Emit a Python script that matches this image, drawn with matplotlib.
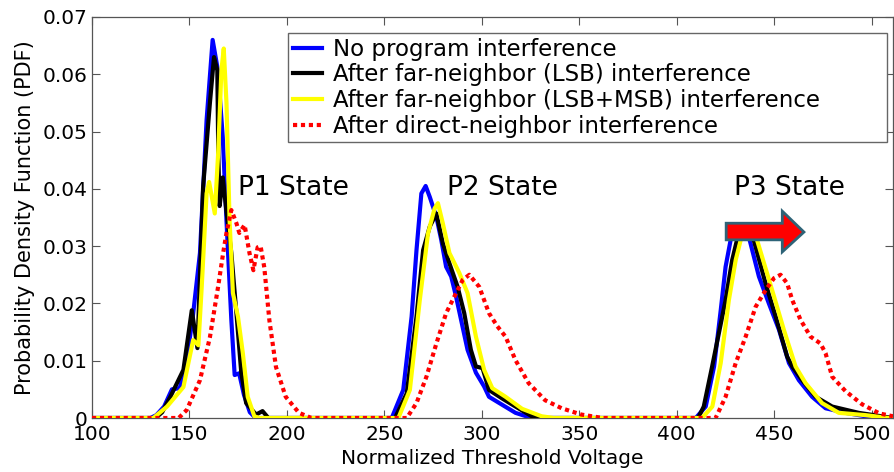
import matplotlib
matplotlib.use("Agg")
import matplotlib.pyplot as plt
from matplotlib.patches import Polygon

# ---- data (normalized Vth vs PDF) ----
x_blue = [100, 130, 133, 137, 141, 145, 148, 151.5, 155.4, 158.8, 161.9, 164.6, 167.1, 169, 171.5, 173.2,
          175.5, 178, 181, 184,
          253.8, 259.7, 264, 266.5, 269, 271.2, 273.3, 276.7, 279.2, 281.7, 284.3, 286.8, 289.4, 292.7, 297,
          301.2, 303.7, 310.5, 317.3, 323.7, 327,
          409.8, 414.9, 419.2, 422.6, 425.1, 427.7, 432.5, 437.5, 442.2, 447.3, 452.5, 457.6, 462.7, 469.5,
          476.4, 486.6, 496.9, 502, 511]
y_blue = [0, 0, 0.0005, 0.002, 0.005, 0.0052, 0.009, 0.017, 0.0288, 0.052, 0.066, 0.0607, 0.049, 0.0345, 0.0171, 0.0075,
          0.0078, 0.004, 0.001, 0,
          0, 0.0049, 0.0177, 0.0293, 0.0392, 0.0405, 0.0386, 0.0351, 0.0311, 0.0264, 0.0247, 0.0212, 0.0171, 0.0119, 0.0079,
          0.0055, 0.0037, 0.0023, 0.0009, 0.0002, 0,
          0, 0.002, 0.009, 0.0188, 0.0264, 0.0311, 0.0335, 0.031, 0.0247, 0.02, 0.0154, 0.0096, 0.0066, 0.0037,
          0.0017, 0.0009, 0.0003, 0, 0]

x_black = [100, 132.6, 136, 140.2, 146.9, 151.2, 154.1, 157, 160.5, 162.6, 164.3, 164.8, 165.5, 167.1, 169, 171.5,
           174.1, 176.6, 179.1, 184.2, 187.5, 190.5,
           255.5, 261.5, 266.5, 269.9, 273.3, 276.7, 280, 283.4, 287.6, 291, 294.4, 297, 300.4, 303.7, 310.5,
           317.3, 325.7, 332,
           411, 413.9, 418.2, 425.1, 428.5, 430.9, 434.5, 439.6, 445.6, 450.8, 456.7, 459.3, 464.4, 471.3, 479.8,
           493.4, 507, 511]
y_black = [0, 0, 0.001, 0.0037, 0.0084, 0.0188, 0.0122, 0.0403, 0.055, 0.063, 0.0607, 0.046, 0.037, 0.042, 0.036, 0.0288,
           0.0183, 0.0079, 0.0026, 0.0006, 0.0012, 0,
           0, 0.0043, 0.0177, 0.0293, 0.0334, 0.0357, 0.0305, 0.027, 0.0229, 0.0183, 0.0119, 0.009, 0.0087, 0.0049, 0.0034,
           0.002, 0.0003, 0,
           0, 0.002, 0.009, 0.0206, 0.0276, 0.031, 0.0335, 0.031, 0.0235, 0.0177, 0.0107, 0.009, 0.0066, 0.0037, 0.002,
           0.0009, 0.0002, 0]

x_yellow = [100, 131.5, 138.5, 146.9, 151.9, 154.6, 156.3, 158.8, 160.1, 163, 164.7, 166.4, 167.6, 169, 170.6, 172.3,
            174.9, 177.4, 179.9, 183.3, 186,
            257.2, 263.1, 268.2, 272.4, 275.8, 277.5, 280, 283.4, 288.5, 292.7, 297, 301.2, 305.4, 312.2, 320.7,
            330.7, 337,
            413, 418.3, 422.6, 426.8, 430.3, 432.8, 436.5, 441.3, 449, 455, 461, 466.1, 474.6, 483.2, 496.9, 508.8, 511]
y_yellow = [0, 0, 0.002, 0.0054, 0.0136, 0.0127, 0.0229, 0.0392, 0.0412, 0.0357, 0.046, 0.0607, 0.0645, 0.055, 0.0345, 0.0218,
            0.0177, 0.0113, 0.0037, 0.0003, 0,
            0, 0.0049, 0.0206, 0.0322, 0.0366, 0.0375, 0.034, 0.0288, 0.0253, 0.0218, 0.0142, 0.0084, 0.0052, 0.0037, 0.0016,
            0.0003, 0,
            0, 0.002, 0.0096, 0.0206, 0.0276, 0.031, 0.0335, 0.031, 0.0223, 0.0154, 0.009, 0.0061, 0.0026, 0.0009, 0.0005, 0, 0]

x_red = [100, 144.5, 148.6, 155.4, 160.5, 164.7, 167.3, 169, 171.5, 174.1, 175.6, 178.3, 180.8, 182.8, 185, 186.5,
         188.4, 191, 194.4, 199.4, 206.2, 212.6,
         261.5, 266.5, 271.6, 276.7, 281.7, 286.8, 290.2, 293.6, 298.7, 303.7, 308, 312.2, 317.3, 324, 332.5,
         341, 351.1, 362,
         420, 425.1, 430.3, 435.4, 440.5, 445.6, 449.9, 453.3, 456.7, 459.3, 463.6, 468.7, 473.8, 476.4, 479.8,
         486.6, 495.1, 504, 511]
y_red = [0, 0, 0.0014, 0.0066, 0.0141, 0.0229, 0.0288, 0.0323, 0.0363, 0.034, 0.0323, 0.0337, 0.0288, 0.0258, 0.0298, 0.030,
         0.0263, 0.0171, 0.0089, 0.0037, 0.0009, 0,
         0, 0.0026, 0.0072, 0.013, 0.0183, 0.0218, 0.0241, 0.025, 0.0229, 0.0183, 0.016, 0.0142, 0.0101, 0.0061, 0.0031,
         0.0017, 0.0006, 0,
         0, 0.0037, 0.0096, 0.0142, 0.0194, 0.0223, 0.0244, 0.025, 0.0235, 0.0206, 0.0171, 0.0142, 0.013, 0.0113, 0.0072,
         0.0047, 0.0024, 0.0008, 0.0003]

series_labels = ["No program interference",
                 "After far-neighbor (LSB) interference",
                 "After far-neighbor (LSB+MSB) interference",
                 "After direct-neighbor interference"]

x_ticks = [100, 150, 200, 250, 300, 350, 400, 450, 500]
y_ticks = [0, 0.01, 0.02, 0.03, 0.04, 0.05, 0.06, 0.07]
y_tick_labels = ["0", "0.01", "0.02", "0.03", "0.04", "0.05", "0.06", "0.07"]

state_names = ["P1 State", "P2 State", "P3 State"]
state_x = [174.8, 281.9, 429.4]

# ---- figure ----
plt.rcParams["font.family"] = ["DejaVu Sans"]
dpi = 100
fig = plt.figure(figsize=(894 / dpi, 472 / dpi), dpi=dpi)
ax = fig.add_axes([92 / 894, 54 / 472, 801 / 894, 401 / 472])

ax.plot(x_blue, y_blue, color="#0000ff", lw=3, label=series_labels[0], zorder=2)
ax.plot(x_black, y_black, color="black", lw=3, label=series_labels[1], zorder=3)
ax.plot(x_yellow, y_yellow, color="#ffff00", lw=3, label=series_labels[2], zorder=4)
ax.plot(x_red, y_red, color="#ff0000", lw=3, dashes=(1, 0.9), label=series_labels[3], zorder=5)

ax.set_xlim(100, 511)
ax.set_ylim(0, 0.07)
ax.set_xticks(x_ticks)
ax.set_yticks(y_ticks)
ax.set_yticklabels(y_tick_labels)
ax.tick_params(direction="in", top=True, right=True, length=6, width=0.8,
               color="#555555", labelsize=14.5, pad=3)
ax.tick_params(axis="x", pad=5)
for s in ax.spines.values():
    s.set_color("#555555")
    s.set_linewidth(0.9)

ax.set_xlabel("Normalized Threshold Voltage", fontsize=14.5, labelpad=4)
ax.set_ylabel("Probability Density Function (PDF)", fontsize=15)
ax.yaxis.set_label_coords(-0.071, 0.5)

for name, sx in zip(state_names, state_x):
    ax.text(sx, 0.0402, name, fontsize=19, ha="left", va="center", zorder=6)

# red shift arrow over P3
arrow = Polygon([(425.4, 0.0340), (454.2, 0.0340), (454.2, 0.0361), (465.3, 0.03246),
                 (454.2, 0.0290), (454.2, 0.0311), (425.4, 0.0311)],
                closed=True, facecolor="#ff0000", edgecolor="#2e6377", lw=2, zorder=7)
ax.add_patch(arrow)

leg = ax.legend(loc="upper left", bbox_to_anchor=(288 / 894, (472 - 139) / 472, 599 / 894, 106 / 472),
                bbox_transform=fig.transFigure, mode="expand", borderaxespad=0,
                fontsize=16.5, handlelength=1.3, handletextpad=0.45, labelspacing=0.12,
                borderpad=0.2, fancybox=False, framealpha=1)
leg.get_frame().set_edgecolor("#666666")
leg.get_frame().set_linewidth(1)
leg.set_zorder(8)

fig.savefig("out.png", dpi=dpi)
